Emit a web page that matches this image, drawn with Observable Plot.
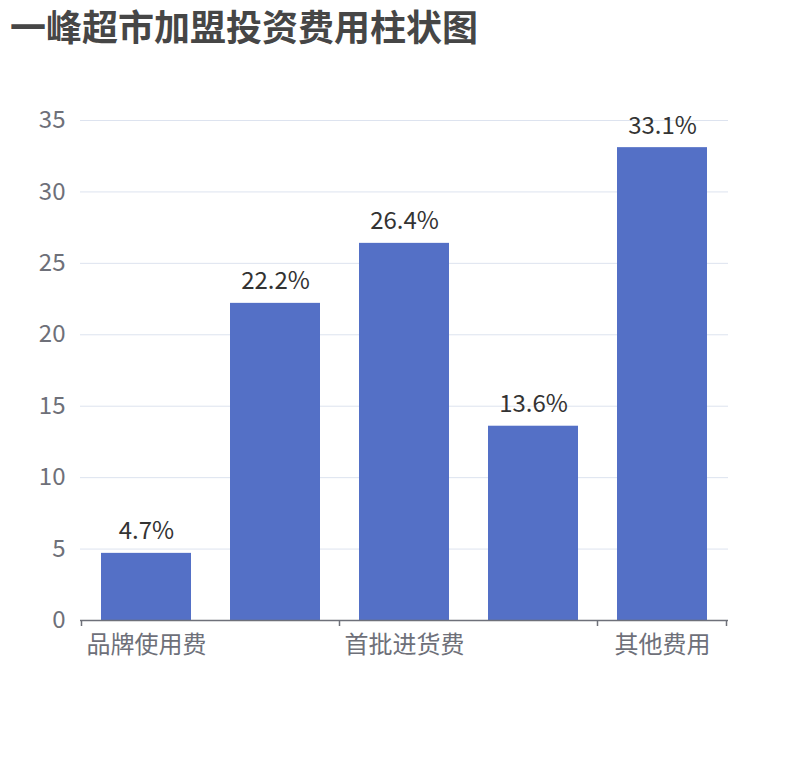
<!DOCTYPE html>
<html><head><meta charset="utf-8">
<script src="https://cdn.jsdelivr.net/npm/d3@7"></script>
<script src="https://cdn.jsdelivr.net/npm/@observablehq/plot@0.6"></script>
<style>
body{margin:0;background:#fff;}
#wrap{position:relative;width:810px;height:760px;}
#title{position:absolute;left:10px;top:0px;font-weight:bold;font-size:36px;font-family:"Noto Sans CJK SC",sans-serif;color:#464646;line-height:50px;white-space:nowrap;}
</style></head><body>
<div id="wrap"><div id="title">一峰超市加盟投资费用柱状图</div><div id="chart"></div></div>
<script>
const categories = ["品牌使用费", "装修费用", "首批进货费", "设备费用", "其他费用"];
const values = [4.7, 22.2, 26.4, 13.6, 33.1];
const shownLabels = ["品牌使用费", "首批进货费", "其他费用"];
const yTicks = [0, 5, 10, 15, 20, 25, 30, 35];

const data = categories.map((c, i) => ({category: c, value: values[i]}));

function axisTicks(index, scales) {
  const x = scales.x, y = scales.y;
  const step = x.step(), bw = x.bandwidth();
  const y0 = y(0);
  const g = d3.create("svg:g").attr("stroke", "#6e7079").attr("stroke-width", 1.5);
  const pos = shownLabels.map(c => x(c) - (step - bw) / 2);
  pos.push(x(categories[categories.length - 1]) + bw + (step - bw) / 2);
  for (const px of pos) {
    g.append("line").attr("x1", px).attr("x2", px).attr("y1", y0).attr("y2", y0 + 6);
  }
  return g.node();
}

const chart = Plot.plot({
  width: 810, height: 760,
  marginLeft: 80, marginRight: 82, marginTop: 120, marginBottom: 140,
  style: {fontFamily: '"Noto Sans CJK SC", sans-serif', fontSize: "24px", background: "#fff", color: "#6e7079", overflow: "visible"},
  x: {domain: categories, paddingInner: 0.3, paddingOuter: 0.15, label: null},
  y: {domain: [0, 35], label: null},
  marks: [
    Plot.gridY(yTicks.slice(1), {stroke: "#dde3ef", strokeOpacity: 1}),
    Plot.axisY(yTicks, {tickSize: 0, tickPadding: 15, fill: "#6e7079", fontSize: 24, label: null}),
    Plot.barY(data, {x: "category", y: "value", fill: "#5470c6"}),
    Plot.ruleY([0], {stroke: "#6e7079", strokeWidth: 1.5}),
    axisTicks,
    Plot.axisX(shownLabels, {tickSize: 0, tickPadding: 15, fill: "#6e7079", fontSize: 24, label: null}),
    Plot.text(data, {x: "category", y: "value", text: d => d.value + "%", lineAnchor: "bottom", dy: -14, fill: "#333", fontSize: 24})
  ]
});
document.getElementById("chart").appendChild(chart);
</script>
</body></html>
